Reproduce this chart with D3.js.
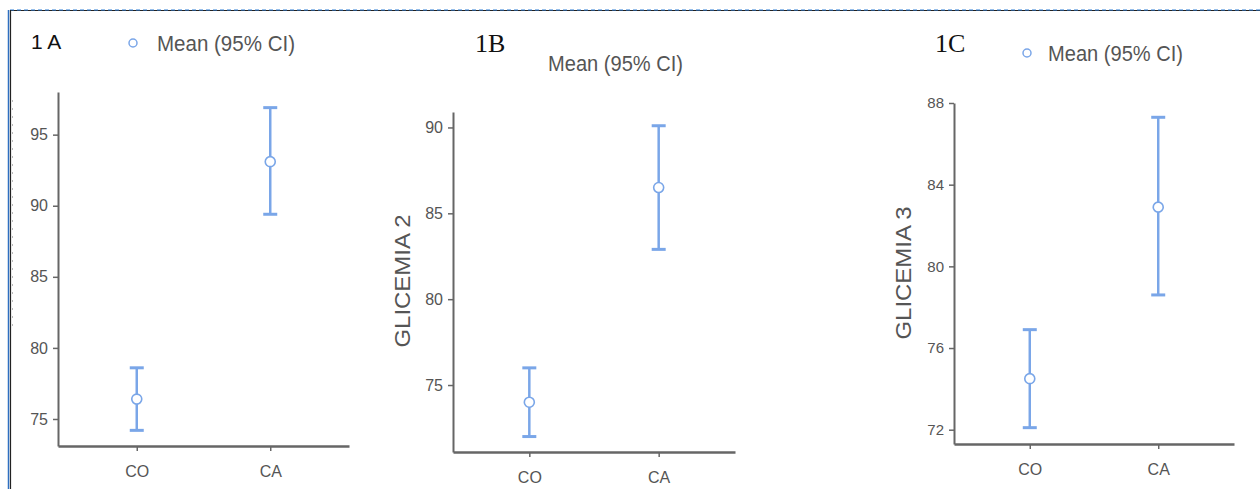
<!DOCTYPE html>
<html>
<head>
<meta charset="utf-8">
<script src="https://cdn.jsdelivr.net/npm/d3@7"></script>
<style>
  html, body { margin: 0; padding: 0; background: #fff; }
  svg { display: block; }
</style>
</head>
<body>
<svg id="chart" width="1260" height="489"></svg>
<script>
// ---------------- data ----------------
const categories = ["CO", "CA"];
const panelLabels = ["1 A", "1B", "1C"];
const yTitles = ["", "GLICEMIA 2", "GLICEMIA 3"];
const legendText = "Mean (95% CI)";

const meanA = [76.4, 93.1];
const lowA  = [74.2, 89.4];
const highA = [78.6, 96.9];

const meanB = [74.0, 86.5];
const lowB  = [72.0, 82.9];
const highB = [76.0, 90.1];

const meanC = [74.5, 82.9];
const lowC  = [72.1, 78.6];
const highC = [76.9, 87.3];

const ticksA = [75, 80, 85, 90, 95];
const ticksB = [75, 80, 85, 90];
const ticksC = [72, 76, 80, 84, 88];

const domainA = [73.1, 98.0];
const domainB = [71.1, 90.9];
const domainC = [71.3, 88.0];

// ---------------- layout ----------------
const BLUE = "#7aa6e8";
const AXIS = "#666";
const TEXT = "#555";

const panels = [
  { mean: meanA, low: lowA, high: highA, ticks: ticksA, domain: domainA,
    x0: 58, x1: 349, top: 92, bottom: 446,
    label: { x: 31, y: 49, font: "'Liberation Sans', Arial, sans-serif", size: 21 },
    legend: { circle: [133, 43], tx: 157, ty: 43, len: 138 },
    title: null, tickSize: 16, xlabOff: 15 },
  { mean: meanB, low: lowB, high: highB, ticks: ticksB, domain: domainB,
    x0: 453, x1: 735, top: 112, bottom: 452,
    label: { x: 475, y: 52, font: "'Liberation Serif', 'Times New Roman', serif", size: 26 },
    legend: { circle: null, tx: 548, ty: 63, len: 135 },
    title: { x: 402, y: 281, len: 133 }, tickSize: 16, xlabOff: 15 },
  { mean: meanC, low: lowC, high: highC, ticks: ticksC, domain: domainC,
    x0: 954, x1: 1234, top: 103, bottom: 444,
    label: { x: 935, y: 52, font: "'Liberation Serif', 'Times New Roman', serif", size: 26 },
    legend: { circle: [1027, 53], tx: 1048, ty: 53, len: 135 },
    title: { x: 903, y: 273, len: 133 }, tickSize: 15, xlabOff: 15 }
];

const svg = d3.select("#chart");

// frame
svg.append("line").attr("x1", 10).attr("x2", 1260).attr("y1", 10.5).attr("y2", 10.5)
  .attr("stroke", "#222").attr("stroke-width", 1);
svg.append("line").attr("x1", 10).attr("x2", 1260).attr("y1", 10).attr("y2", 10)
  .attr("stroke", "#2f7fd6").attr("stroke-width", 1.2).attr("stroke-dasharray", "4,3");
svg.append("line").attr("x1", 8.5).attr("x2", 8.5).attr("y1", 10).attr("y2", 489)
  .attr("stroke", "#2f6fc0").attr("stroke-width", 1.5);
svg.append("line").attr("x1", 10.5).attr("x2", 10.5).attr("y1", 10).attr("y2", 489)
  .attr("stroke", "#222").attr("stroke-width", 1.2);
svg.append("line").attr("x1", 12.5).attr("x2", 12.5).attr("y1", 100).attr("y2", 330)
  .attr("stroke", "#bbb").attr("stroke-width", 1).attr("stroke-dasharray", "2,6");

panels.forEach((p, i) => {
  const g = svg.append("g");
  const y = d3.scaleLinear().domain(p.domain).range([p.bottom, p.top]);
  const x = d3.scalePoint().domain(categories).range([p.x0, p.x1]).padding(0.59);

  // y axis
  const ya = g.append("g").attr("transform", `translate(${p.x0},0)`)
    .call(d3.axisLeft(y).tickValues(p.ticks).tickSize(5).tickSizeOuter(0).tickPadding(5));
  ya.select(".domain").attr("stroke", AXIS).attr("stroke-width", 2);
  ya.selectAll(".tick line").attr("stroke", AXIS).attr("stroke-width", 1.5);
  ya.selectAll(".tick text").attr("fill", TEXT)
    .style("font-family", "'Liberation Sans', Arial, sans-serif").style("font-size", p.tickSize + "px");

  // x axis
  const xa = g.append("g").attr("transform", `translate(0,${p.bottom})`)
    .call(d3.axisBottom(x).tickSize(5).tickSizeOuter(0).tickPadding(p.xlabOff));
  xa.select(".domain").attr("stroke", AXIS).attr("stroke-width", 2.5);
  xa.selectAll(".tick line").attr("stroke", AXIS).attr("stroke-width", 1.5);
  xa.selectAll(".tick text").attr("fill", TEXT)
    .style("font-family", "'Liberation Sans', Arial, sans-serif").style("font-size", "16px");

  // error bars
  const idx = d3.range(categories.length);
  const cw = 7;
  g.selectAll(".ci").data(idx).join("line")
    .attr("x1", d => x(categories[d])).attr("x2", d => x(categories[d]))
    .attr("y1", d => y(p.low[d])).attr("y2", d => y(p.high[d]))
    .attr("stroke", BLUE).attr("stroke-width", 2.5);
  g.selectAll(".capH").data(idx).join("line")
    .attr("x1", d => x(categories[d]) - cw).attr("x2", d => x(categories[d]) + cw)
    .attr("y1", d => y(p.high[d])).attr("y2", d => y(p.high[d]))
    .attr("stroke", BLUE).attr("stroke-width", 3);
  g.selectAll(".capL").data(idx).join("line")
    .attr("x1", d => x(categories[d]) - cw).attr("x2", d => x(categories[d]) + cw)
    .attr("y1", d => y(p.low[d])).attr("y2", d => y(p.low[d]))
    .attr("stroke", BLUE).attr("stroke-width", 3);
  g.selectAll(".pt").data(idx).join("circle")
    .attr("cx", d => x(categories[d])).attr("cy", d => y(p.mean[d]))
    .attr("r", 5).attr("fill", "#fff").attr("stroke", BLUE).attr("stroke-width", 1.6);

  // panel label
  g.append("text").attr("x", p.label.x).attr("y", p.label.y)
    .style("font-family", p.label.font).style("font-size", p.label.size + "px")
    .attr("fill", "#111").text(panelLabels[i]);

  // legend
  if (p.legend.circle) {
    g.append("circle").attr("cx", p.legend.circle[0]).attr("cy", p.legend.circle[1])
      .attr("r", 4).attr("fill", "#fff").attr("stroke", BLUE).attr("stroke-width", 1.5);
  }
  g.append("text").attr("x", p.legend.tx).attr("y", p.legend.ty)
    .attr("dominant-baseline", "central")
    .attr("textLength", p.legend.len).attr("lengthAdjust", "spacingAndGlyphs")
    .style("font-family", "'Liberation Sans', Arial, sans-serif").style("font-size", "22px")
    .attr("fill", TEXT).text(legendText);

  // y title
  if (p.title) {
    g.append("text")
      .attr("transform", `translate(${p.title.x},${p.title.y}) rotate(-90)`)
      .attr("text-anchor", "middle").attr("dominant-baseline", "central")
      .attr("textLength", p.title.len).attr("lengthAdjust", "spacingAndGlyphs")
      .style("font-family", "'Liberation Sans', Arial, sans-serif").style("font-size", "22px")
      .attr("fill", TEXT).text(yTitles[i]);
  }
});
</script>
</body>
</html>
